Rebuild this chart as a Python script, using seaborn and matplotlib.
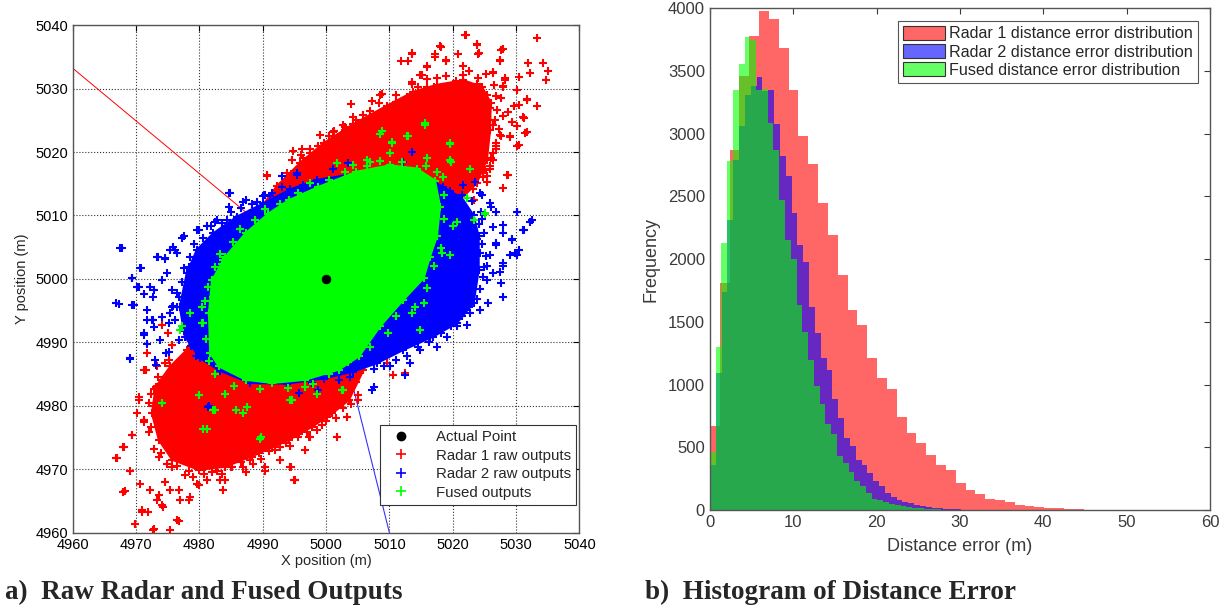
import numpy as np
import pandas as pd
import matplotlib
matplotlib.use('Agg')
import matplotlib.pyplot as plt
from matplotlib.patches import Patch
from matplotlib.lines import Line2D
import seaborn as sns

# ---------------- data: panel a (positions in metres) ----------------
actual_x = [5000.0]
actual_y = [5000.0]

# lines from each radar towards the actual point
red_line_x = [4960.0, 5000.0]
red_line_y = [5033.2, 5000.0]
blue_line_x = [5010.0, 5000.0]
blue_line_y = [4960.0, 5000.0]

# outline of the dense part of each cloud
red_core_x = [4995.9, 4999.6, 5004.3, 5009.6, 5013.8, 5017.5, 5021.7, 5024.6, 5026.0, 5025.9,
              5025.4, 5023.8, 5021.2, 5017.5, 5009.6, 5005.9, 5003.6, 5001.0, 4997.8, 4994.1,
              4989.4, 4984.1, 4979.9, 4975.7, 4973.6, 4972.5, 4973.1, 4975.4, 4978.0, 4983.3,
              4989.1, 4992.2]
red_core_y = [5018.3, 5021.4, 5024.4, 5027.3, 5029.5, 5030.6, 5031.3, 5030.3, 5027.8, 5023.5,
              5018.8, 5015.1, 5012.5, 5004.1, 4993.5, 4985.6, 4980.9, 4978.8, 4976.7, 4974.6,
              4972.5, 4970.4, 4969.9, 4971.5, 4974.6, 4978.8, 4983.0, 4986.2, 4988.8, 5001.4,
              5010.4, 5014.6]
blue_core_x = [4976.9, 4978.0, 4979.6, 4982.2, 4985.9, 4990.1, 4994.3, 4998.5, 5004.8, 5010.1,
               5014.3, 5018.5, 5021.5, 5023.3, 5024.1, 5024.1, 5023.3, 5020.6, 5016.9, 5012.2,
               5008.0, 5004.3, 4999.6, 4993.8, 4988.0, 4983.3, 4980.1, 4977.7]
blue_core_y = [4995.6, 5000.9, 5004.6, 5007.2, 5009.8, 5011.9, 5014.1, 5015.6, 5016.6, 5017.4,
               5016.9, 5014.5, 5012.7, 5010.0, 5006.7, 5001.4, 4996.2, 4993.0, 4990.9, 4988.8,
               4986.7, 4985.4, 4984.3, 4983.5, 4983.6, 4985.5, 4987.5, 4990.9]
green_core_x = [4981.7, 4981.5, 4982.0, 4984.1, 4987.3, 4990.9, 4994.1, 4998.8, 5004.8, 5010.1,
                5014.3, 5017.2, 5018.0, 5017.5, 5016.4, 5015.4, 5012.2, 5008.5, 5005.2, 5002.0,
                4996.7, 4991.5, 4987.3, 4983.1]
green_core_y = [4988.3, 4994.6, 4999.8, 5003.5, 5007.2, 5010.3, 5012.4, 5014.5, 5016.9, 5017.9,
                5017.4, 5015.5, 5011.4, 5006.7, 5003.5, 5000.1, 4996.7, 4992.5, 4987.8, 4985.7,
                4984.1, 4983.6, 4984.1, 4986.2]

# ragged points along the edge of each dense part
red_edge_x = [4994.5, 4996.0, 4997.5, 4998.5, 5000.5, 5001.8, 5003.0, 5004.3, 5005.8, 5007.0,
              5008.3, 5009.5, 5011.0, 5012.3, 5014.5, 5016.0, 5017.0, 5019.0, 5020.5, 5022.5,
              5024.0, 5025.3, 5026.5, 5026.8, 5027.0, 5026.6, 5027.3, 5026.8, 5026.3, 5025.9,
              5024.8, 5023.2,
              4972.0, 4971.3, 4972.0, 4972.8, 4974.0, 4974.9, 4976.5, 4977.8, 4979.0, 4980.7,
              4982.0, 4983.5, 4985.0, 4986.5, 4988.0, 4989.8, 4991.0, 4992.8, 4994.3, 4995.5,
              4997.0, 4998.5, 5000.0, 5001.5, 5002.7, 5004.0, 5005.0, 4972.8, 4973.5, 4974.5]
red_edge_y = [5016.5, 5019.5, 5020.5, 5019.2, 5022.5, 5021.7, 5023.5, 5025.5, 5024.8, 5026.5,
              5027.8, 5026.8, 5029.0, 5028.2, 5030.2, 5031.5, 5030.2, 5032.0, 5031.2, 5032.7,
              5031.6, 5032.3, 5030.5, 5028.8, 5026.7, 5025.0, 5023.7, 5021.5, 5019.8, 5017.8,
              5016.1, 5014.2,
              4980.5, 4977.5, 4975.8, 4973.2, 4972.6, 4970.9, 4970.5, 4969.1, 4968.8, 4969.2,
              4969.5, 4969.3, 4970.3, 4971.2, 4971.5, 4971.6, 4972.9, 4973.5, 4973.6, 4975.1,
              4975.8, 4976.2, 4977.6, 4978.1, 4979.6, 4980.3, 4981.7, 4982.6, 4984.5, 4986.8]
blue_edge_x = [4976.2, 4975.8, 4976.5, 4977.2, 4977.5, 4978.5, 4979.2, 4980.5, 4981.8, 4983.5,
               4985.0, 4986.5, 4988.3, 4990.0, 4991.5, 4993.0, 4978.6, 4977.5, 4979.5,
               5019.5, 5021.5, 5023.0, 5024.5, 5024.2, 5025.0, 5024.6, 5025.2, 5025.0, 5024.8,
               5024.3, 5023.8, 5022.6, 5021.5, 5019.8, 5018.2, 5016.2, 5014.5, 5012.8, 5011.0,
               5009.2, 5007.5]
blue_edge_y = [4993.5, 4995.8, 4997.8, 4999.5, 5001.7, 5003.5, 5005.5, 5006.5, 5008.3, 5008.8,
               5010.5, 5011.2, 5011.8, 5013.0, 5013.5, 5014.5, 4989.5, 4991.8, 4987.8,
               5013.8, 5013.3, 5012.3, 5010.5, 5008.6, 5007.2, 5005.5, 5003.6, 5001.9, 5000.3,
               4998.4, 4996.9, 4995.6, 4994.2, 4992.6, 4991.5, 4990.1, 4989.3, 4987.8, 4987.2,
               4986.2, 4985.8]
green_edge_x = [4981.0, 4980.6, 4980.9, 4981.4, 4982.5, 4983.3, 4985.3, 4986.4, 4988.8, 4990.3,
                4992.7, 4995.5, 4997.5, 5000.5, 5003.0, 5006.5, 5008.5, 5012.0, 5015.8, 5018.4,
                5018.7, 5018.6, 5018.2, 5017.0, 5016.0, 5014.0, 5011.0, 5009.8, 5007.0, 5003.5,
                5000.5, 4998.0, 4994.0, 4989.5, 4985.5, 4982.5, 4981.5]
green_edge_y = [4990.5, 4993.0, 4996.5, 4998.8, 5001.8, 5004.0, 5005.8, 5007.8, 5009.3, 5011.0,
                5011.8, 5013.6, 5015.1, 5015.6, 5016.9, 5017.8, 5018.6, 5018.5, 5017.8, 5016.0,
                5013.2, 5009.4, 5004.8, 5002.0, 4998.5, 4995.6, 4994.2, 4991.4, 4989.2, 4986.9,
                4985.0, 4983.5, 4982.8, 4982.7, 4983.1, 4985.0, 4987.0]

# scattered outputs outside the dense parts
red_x = [5022.1, 5033.3, 5023.8, 5028.0, 5024.1, 5018.0, 5017.2, 5013.5, 5011.9, 5013.0,
         5018.9, 5021.7, 5027.5, 5031.9, 5034.3, 5035.1, 5032.2, 5034.8, 5015.9, 5015.1,
         5013.5, 5026.4, 5028.3, 5028.0, 5030.1, 5031.7, 5033.3, 5027.7, 5029.6, 5031.2,
         5028.0, 5030.1, 5031.4, 5029.1, 5027.5, 5026.9, 5030.1, 5026.4, 5028.5, 5028.0,
         5025.4, 5008.8, 5007.2, 5003.9, 5004.8, 5002.7, 5001.2, 4998.8, 4996.2, 4997.5,
         4994.6, 4996.4, 4990.6, 4993.8, 4992.7, 5018.5, 5023.3, 5025.1,
         4966.9, 4968.0, 4969.3, 4968.0, 4969.1, 4970.6, 4970.9, 4971.9, 4969.8, 4972.7,
         4975.4, 4976.7, 4974.3, 4973.3, 4972.2, 4975.4, 4976.9, 4978.5, 4979.6, 4981.2,
         4983.3, 4983.8, 4982.7, 4986.9, 4988.5, 4990.4, 4991.9, 4992.7, 4995.1, 4994.3,
         4996.7, 4997.5, 5000.1, 5001.7, 5003.3, 5005.1, 4971.7, 4971.2, 4970.4, 4970.1,
         4974.1, 4975.1, 4973.3, 5009.6, 5010.6, 5012.5, 5004.8, 5006.4, 4990.6, 4988.0,
         5021.9, 5023.8, 5027.7, 5024.0, 5018.2, 5013.5, 5017.2, 5020.9, 5019.0, 5015.9,
         5014.8, 5013.5, 5027.5, 5030.4, 5028.2, 5026.4, 5028.0, 5031.7, 5030.4, 5028.8,
         5031.1, 5029.3, 5027.7, 5029.0, 5031.7, 5030.4, 5026.9, 5025.9, 5028.8, 5025.4,
         5008.5, 5005.9, 5003.0, 5001.1, 4999.0, 4999.8, 4997.5, 4994.8, 4996.4, 5011.1,
         5012.7, 5014.8, 5015.9, 5017.5, 5021.7, 5023.8, 5025.4, 5025.9, 5026.4, 5026.1,
         5024.8, 5002.2, 4998.5, 4995.9,
         4968.1, 4967.0, 4968.3, 4969.1, 4969.9, 4971.0, 4972.8, 4976.5, 4974.1, 4973.6,
         4974.6, 4976.7, 4978.3, 4979.9, 4984.1, 4987.3, 4990.4, 4994.4, 4994.9, 4997.3,
         4999.4, 5001.7, 5003.3, 4969.4, 4971.2, 4972.3, 4971.5, 4970.4, 4974.1, 4975.7,
         4975.2, 4973.6, 4975.7, 4978.3, 4980.9, 4985.2, 4988.3, 4991.5, 4993.6, 4995.7,
         4997.8, 5000.4, 4972.3, 4972.8]
red_y = [5038.5, 5037.9, 5036.9, 5036.2, 5035.6, 5036.7, 5035.4, 5035.6, 5034.4, 5034.4,
         5034.3, 5033.5, 5034.3, 5034.1, 5034.1, 5032.7, 5032.5, 5031.4, 5033.5, 5032.2,
         5031.0, 5032.5, 5031.4, 5030.4, 5029.8, 5028.3, 5027.2, 5028.5, 5027.2, 5025.4,
         5025.6, 5024.1, 5023.0, 5022.5, 5022.7, 5020.9, 5020.9, 5018.8, 5016.4, 5014.3,
         5016.2, 5029.1, 5028.0, 5027.6, 5025.1, 5024.2, 5023.3, 5021.0, 5020.4, 5019.8,
         5018.8, 5017.7, 5016.4, 5016.7, 5014.6, 5012.5, 5012.5, 5017.2,
         4971.7, 4973.5, 4975.4, 4966.4, 4969.8, 4967.7, 4963.5, 4963.3, 4961.4, 4960.5,
         4960.4, 4961.9, 4964.1, 4965.1, 4966.7, 4966.7, 4965.1, 4965.6, 4967.7, 4968.3,
         4968.3, 4966.7, 4969.8, 4970.4, 4970.9, 4969.8, 4973.0, 4971.4, 4968.3, 4970.4,
         4973.0, 4975.1, 4978.3, 4975.1, 4978.3, 4980.9, 4988.3, 4985.6, 4981.4, 4978.8,
         4992.7, 4991.4, 4986.2, 4986.7, 4984.8, 4985.1, 4983.8, 4986.7, 5016.2, 5010.4,
         5038.4, 5037.1, 5036.1, 5035.5, 5036.6, 5035.5, 5035.0, 5035.5, 5034.5, 5033.4,
         5032.1, 5030.8, 5034.5, 5031.8, 5031.6, 5032.6, 5030.3, 5028.2, 5027.4, 5026.3,
         5025.5, 5024.7, 5022.6, 5022.4, 5023.2, 5021.1, 5020.5, 5017.4, 5016.3, 5015.3,
         5029.0, 5025.8, 5024.0, 5023.2, 5022.7, 5021.1, 5018.5, 5020.1, 5019.0, 5027.9,
         5028.7, 5029.0, 5030.3, 5031.6, 5032.1, 5030.8, 5029.0, 5026.9, 5024.2, 5019.0,
         5016.9, 5021.6, 5020.0, 5017.4,
         4973.5, 4971.7, 4966.5, 4969.8, 4961.4, 4963.3, 4960.6, 4962.0, 4964.4, 4965.9,
         4968.0, 4966.7, 4965.2, 4967.5, 4968.3, 4969.6, 4970.4, 4970.4, 4968.3, 4975.1,
         4976.9, 4975.1, 4978.3, 4975.4, 4977.7, 4981.9, 4985.6, 4980.9, 4984.1, 4989.6,
         4987.2, 4972.0, 4970.4, 4969.8, 4970.4, 4970.4, 4972.0, 4973.5, 4974.1, 4975.6,
         4977.2, 4978.8, 4976.7, 4979.9]

blue_x = [4967.5, 4966.9, 4969.3, 4969.3, 4970.6, 4969.1, 4971.7, 4971.2, 4970.4, 4972.2,
          4972.7, 4973.5, 4974.6, 4975.4, 4975.9, 4976.4, 4977.5, 4979.6, 4981.2, 4982.7,
          4984.3, 4984.8, 4986.9, 4989.1, 4991.2, 4993.0, 4995.4, 4971.7, 4972.7, 4973.8,
          4974.8, 4973.0, 4975.4, 4976.4, 5024.3, 5025.9, 5026.9, 5030.1, 5032.5, 5031.2,
          5028.0, 5026.9, 5029.3, 5029.8, 5030.4, 5028.0, 5026.4, 5025.4, 5027.7, 5028.0,
          5025.6, 5024.3, 5022.7, 5022.2, 5020.6, 5019.1, 5017.5, 5016.4, 5014.8, 5014.3,
          5013.3, 5012.5, 5010.1, 5007.5, 5007.2, 5005.9, 5003.8, 5024.3, 5023.8, 4981.4,
          5030.1, 5032.2, 5031.1, 5028.0, 5026.4, 5029.3, 5026.9, 5030.1, 5029.0, 5028.0,
          5026.1, 5024.6, 5025.4, 5027.5, 5025.9, 5024.6, 5023.8, 5023.5, 5021.7, 5013.5,
          5012.2, 5003.5, 5001.1, 4996.4, 4995.4,
          4967.7, 4967.3, 4969.0, 4969.4, 4970.8, 4970.2, 4971.2, 4969.6, 4971.7, 4972.8,
          4974.1, 4974.9, 4973.3, 4974.6, 4976.2, 4977.3, 4979.9, 4982.5, 4984.6, 4987.3,
          4990.4, 4984.6, 4972.5, 4971.2, 4972.8, 4974.1, 4975.7, 4975.2, 4976.7, 4975.7,
          4978.3, 4977.8, 4975.2, 4973.1, 4976.7, 4978.8, 4981.5, 4995.7, 4998.8, 5002.0,
          5004.6, 4997.8, 4992.5]
blue_y = [5004.8, 4996.2, 5000.1, 4995.9, 5001.7, 4987.5, 4989.8, 4991.4, 4998.8, 4998.8,
          4997.2, 5003.5, 5003.3, 5004.6, 5005.1, 5004.1, 5006.7, 5007.7, 5008.3, 5009.3,
          5009.3, 5013.5, 5012.2, 5012.2, 5013.0, 5016.2, 5016.7, 4993.5, 4993.5, 4990.4,
          4988.3, 4987.2, 4994.6, 4995.6, 5013.5, 5011.9, 5010.6, 5010.6, 5009.3, 5007.7,
          5007.2, 5005.6, 5006.2, 5004.1, 5004.6, 5002.5, 5000.9, 4999.8, 4999.3, 4997.2,
          4996.2, 4995.1, 4994.6, 4992.7, 4992.5, 4990.9, 4989.3, 4990.9, 4988.8, 4990.4,
          4986.7, 4984.8, 4986.2, 4983.0, 4982.5, 4986.7, 4984.6, 5004.1, 5006.7, 4979.8,
          5010.6, 5009.0, 5007.7, 5008.5, 5008.2, 5006.3, 5005.3, 5003.7, 5003.7, 5002.1,
          5011.3, 5013.2, 5002.1, 5001.1, 5003.7, 5009.5, 5006.3, 5015.3, 5014.8, 5020.0,
          5018.5, 5018.2, 5017.4, 5014.8, 5016.4,
          5004.8, 4996.1, 4987.4, 5000.1, 5001.7, 4998.8, 4997.7, 4995.9, 4995.1, 4998.2,
          4999.8, 5000.9, 5003.5, 5003.2, 5004.5, 5006.4, 5007.7, 5009.0, 5011.4, 5012.4,
          5013.2, 5013.5, 4993.5, 4991.1, 4992.4, 4994.0, 4995.6, 4993.0, 4997.2, 4998.3,
          5001.9, 4993.5, 4988.5, 4986.4, 4990.4, 4992.5, 4979.9, 4982.0, 4982.5, 4984.1,
          4987.2, 4983.6, 4984.1]

green_x = [5019.6, 5015.6, 5012.7, 5010.4, 5008.8, 5019.6, 5022.2, 5025.1, 5023.3, 5020.1,
           5018.3, 5015.4, 5014.8, 5013.5, 5002.7, 4998.5, 4994.3, 4989.8, 4986.9, 4982.2,
           4980.6, 4974.1, 4976.9, 4978.5, 4980.4, 4982.2, 4983.5, 4983.8, 4985.9, 4988.5,
           4992.2, 4997.5, 5006.4, 5001.7,
           5015.6, 5019.6, 5013.0, 5010.4, 5008.5, 5010.1, 5015.9, 5019.8, 5017.5, 5022.7,
           5022.2, 5025.1, 5020.6, 5019.6, 5007.0, 5004.3,
           4989.6, 4981.2, 4982.5, 4985.7, 4987.5, 4984.1, 4979.9, 4977.3, 4980.4, 4982.5,
           4983.6, 4986.2, 4988.6, 4991.5, 4974.1, 4994.6, 4996.7, 5002.5]
green_y = [5021.4, 5024.6, 5022.5, 5021.4, 5023.3, 5018.8, 5012.7, 5010.4, 5009.3, 5008.3,
           5004.1, 4996.2, 4991.9, 4994.6, 4982.5, 4981.9, 4980.9, 4975.1, 4978.8, 4979.3,
           4976.4, 4980.4, 4991.9, 4994.6, 4995.6, 4997.2, 4999.3, 5003.0, 5004.6, 5006.7,
           5009.8, 5011.4, 5018.8, 5018.3,
           5024.3, 5021.3, 5022.6, 5021.6, 5022.9, 5019.8, 5019.0, 5018.5, 5016.9, 5017.4,
           5012.7, 5010.3, 5009.0, 5003.7, 5018.5, 5017.9,
           4974.8, 4976.4, 4979.3, 4979.3, 4979.8, 4981.9, 4981.7, 4992.5, 4993.0, 4997.2,
           5002.4, 5005.1, 5007.2, 5008.8, 4980.4, 4980.9, 4983.0, 4982.5]

# ---------------- data: panel b (histogram counts) ----------------
red_bin_w = 1.18
blue_bin_w = 0.70
green_bin_w = 0.693
red_counts = [670, 1810, 2870, 3460, 3780, 3975, 3915, 3680, 3350, 2980,
              2760, 2445, 2190, 1875, 1595, 1475, 1210, 1055, 962, 740,
              618, 535, 438, 362, 322, 212, 162, 130, 90, 83,
              62, 37, 32, 25, 18, 13, 10, 7, 4, 3,
              2, 1, 1, 1, 0, 1, 0, 0, 0, 1]
blue_counts = [360, 1090, 1740, 2310, 2790, 3060, 3310, 3380, 3450, 3340,
               3350, 3080, 2820, 2660, 2365, 2115, 1975, 1615, 1410, 1215,
               1120, 885, 735, 577, 510, 400, 360, 292, 231, 190,
               135, 100, 80, 66, 55, 40, 32, 25, 20, 15,
               11, 8, 6, 4, 3, 2, 1, 1, 0, 1]
green_counts = [465, 1300, 2125, 2780, 3350, 3560, 3770, 3750, 3350, 3355,
                3085, 2870, 2470, 2155, 2005, 1635, 1420, 1195, 985, 845,
                685, 605, 430, 375, 300, 230, 190, 135, 90, 80,
                60, 48, 40, 30, 25, 18, 14, 10, 7, 5,
                3, 2, 1, 1, 0, 0, 0, 0, 0, 1]

# ---------------- style ----------------
sns.set_theme(style='white')
plt.rcParams['font.family'] = ['Liberation Sans', 'DejaVu Sans']

fig = plt.figure(figsize=(12.27, 6.13), dpi=100)
ax1 = fig.add_axes([0.0593, 0.131, 0.4129, 0.828])
ax2 = fig.add_axes([0.5786, 0.168, 0.4075, 0.8184])

# ---------------- panel a ----------------
ax1.plot(red_line_x, red_line_y, color='red', lw=0.7)
ax1.plot(blue_line_x, blue_line_y, color='#3333ff', lw=0.8)

mk = dict(marker='+', s=30, linewidth=1.5, legend=False, ax=ax1)
layers = [
    ('red', 2, red_core_x, red_core_y, red_edge_x, red_edge_y, red_x, red_y),
    ('blue', 3, blue_core_x, blue_core_y, blue_edge_x, blue_edge_y, blue_x, blue_y),
    ('#00ff00', 4, green_core_x, green_core_y, green_edge_x, green_edge_y, green_x, green_y),
]
for col, z, cx, cy, ex, ey, px, py in layers:
    ax1.fill(cx, cy, color=col, lw=1.5, zorder=z)
    sns.scatterplot(x=cx, y=cy, color=col, zorder=z, **mk)
    sns.scatterplot(x=ex, y=ey, color=col, zorder=z, **mk)
    sns.scatterplot(x=px, y=py, color=col, zorder=z, **mk)
sns.scatterplot(x=actual_x, y=actual_y, color='black', marker='o', s=40,
                edgecolor='black', zorder=5, legend=False, ax=ax1)

ax1.set_xlim(4960, 5040)
ax1.set_ylim(4960, 5040)
ax1.set_xticks(np.arange(4960, 5041, 10))
ax1.set_yticks(np.arange(4960, 5041, 10))
ax1.grid(True, linestyle=':', color='#333333', lw=0.8)
ax1.set_axisbelow(True)
ax1.tick_params(direction='in', length=4, top=True, right=True, labelsize=10.5,
                colors='black', width=0.8)
for s in ax1.spines.values():
    s.set_color('#555555')
    s.set_linewidth(1.0)
ax1.set_xlabel('X position (m)', fontsize=10.5, labelpad=2)
ax1.set_ylabel('Y position (m)', fontsize=10.5, labelpad=4)

h1 = [Line2D([], [], ls='none', marker='o', color='black', ms=6),
      Line2D([], [], ls='none', marker='+', color='red', ms=7, mew=1.2),
      Line2D([], [], ls='none', marker='+', color='blue', ms=7, mew=1.2),
      Line2D([], [], ls='none', marker='+', color='#00ff00', ms=7, mew=1.2)]
leg1 = ax1.legend(h1, ['Actual Point', 'Radar 1 raw outputs', 'Radar 2 raw outputs', 'Fused outputs'],
                  loc='lower right', bbox_to_anchor=(0.994, 0.055), borderaxespad=0,
                  fontsize=10.8, fancybox=False, framealpha=1, edgecolor='#333333',
                  handletextpad=1.2, labelspacing=0.3, borderpad=0.35, handlelength=2.2)
leg1.get_frame().set_linewidth(0.8)

# ---------------- panel b ----------------
for counts, w, col in [(red_counts, red_bin_w, 'red'),
                       (blue_counts, blue_bin_w, 'blue'),
                       (green_counts, green_bin_w, '#00ff00')]:
    edges = np.arange(len(counts) + 1) * w
    hist_df = pd.DataFrame({'err': edges[:-1] + w / 2, 'n': counts})
    sns.histplot(data=hist_df, x='err', weights='n', bins=list(edges), color=col,
                 alpha=0.6, edgecolor='none', linewidth=0, ax=ax2)

ax2.set_xlim(0, 60)
ax2.set_ylim(0, 4000)
ax2.set_xticks(np.arange(0, 61, 10))
ax2.set_yticks(np.arange(0, 4001, 500))
ax2.tick_params(direction='in', length=4, top=True, right=True, labelsize=12,
                colors='#3a3a3a', width=0.8, labelcolor='#3a3a3a')
for s in ax2.spines.values():
    s.set_color('#555555')
    s.set_linewidth(1.0)
ax2.set_xlabel('Distance error (m)', fontsize=13, color='#3a3a3a', labelpad=6)
ax2.set_ylabel('Frequency', fontsize=13, color='#3a3a3a', labelpad=6)

h2 = [Patch(facecolor='#ff6666', edgecolor='#333333', lw=0.8),
      Patch(facecolor='#6666ff', edgecolor='#333333', lw=0.8),
      Patch(facecolor='#66ff66', edgecolor='#333333', lw=0.8)]
leg2 = ax2.legend(h2, ['Radar 1 distance error distribution', 'Radar 2 distance error distribution',
                       'Fused distance error distribution'],
                  loc='upper right', bbox_to_anchor=(0.976, 0.975), borderaxespad=0,
                  fontsize=11.6, fancybox=False, framealpha=1, edgecolor='#555555',
                  handletextpad=0.3, labelspacing=0.15, borderpad=0.3, handlelength=2.6,
                  handleheight=1.0)
leg2.get_frame().set_linewidth(0.8)

# ---------------- captions ----------------
fig.text(0.004, 0.034, 'a)  Raw Radar and Fused Outputs', family='Liberation Serif',
         fontweight='bold', fontsize=19.5, va='center', ha='left')
fig.text(0.526, 0.034, 'b)  Histogram of Distance Error', family='Liberation Serif',
         fontweight='bold', fontsize=19.5, va='center', ha='left')

fig.savefig('out.png', dpi=100)
